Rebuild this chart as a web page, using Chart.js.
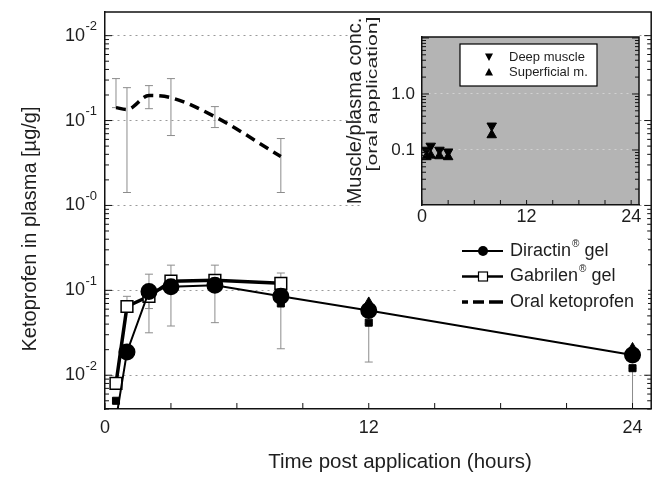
<!DOCTYPE html>
<html>
<head>
<meta charset="utf-8">
<script src="https://cdn.jsdelivr.net/npm/chart.js"></script>
<style>
  body { margin: 0; background: #fff; }
  #wrap { position: relative; width: 661px; height: 478px; }
  #mainChart { position: absolute; left: 0; top: 0; }
  #insetChart { position: absolute; left: 340px; top: 0; }
</style>
</head>
<body>
<div id="wrap">
  <canvas id="mainChart" width="661" height="478"></canvas>
  <canvas id="insetChart" width="320" height="235"></canvas>
</div>
<script>
// plasma concentrations, hours after application
const hours = [0.5, 1, 2, 3, 5, 8, 12, 24];
const diractin = [0.003, 0.0188, 0.097, 0.11, 0.115, 0.085, 0.058, 0.0173];
const gabrilenHours = [0.5, 1, 2, 3, 5, 8];
const gabrilen = [0.008, 0.0645, 0.085, 0.128, 0.131, 0.121];
const squareHours = [0.5, 8, 12, 24];
const squareVals = [0.005, 0.07, 0.0416, 0.0121];
const triHours = [8, 12, 24];
const triVals = [0.1, 0.074, 0.0215];
const gelErrHours = [1, 2, 2, 3, 5, 8, 12, 24];
const gelErrLow = [0.0645, 0.061, 0.0316, 0.038, 0.0416, 0.0205, 0.0143, 0.003];
const gelErrHigh = [0.085, 0.155, 0.097, 0.198, 0.198, 0.16, 0.0404, 0.0121];

// oral curve lives in the upper panel of the broken axis (values = position on the shared log axis)
const oralHours = [0.5, 1, 2, 3, 5, 8];
const oral = [14.2, 13.5, 19.7, 18.6, 11.1, 3.77];
const oralLow = [14.2, 1.42, 13.8, 6.66, 8.27, 1.42];
const oralHigh = [31.2, 24.4, 25.8, 31.2, 14.6, 6.14];

const yDecades = [0.01, 0.1, 1, 10, 100];
const yExponents = ['-2', '-1', '-0', '-1', '-2'];
const xTicks = [0, 12, 24];

// inset: muscle/plasma ratio
const insetHours = [0.5, 1, 2, 3, 8];
const deepMuscle = [0.1, 0.118, 0.1, 0.093, 0.27];
const superficial = [0.075, 0.08, 0.078, 0.075, 0.185];
const insetYTicks = [0.1, 1];
const insetYLabels = ['0.1', '1.0'];

const FONT = "'Liberation Sans', Arial, sans-serif";
const INK = '#1e1e1e';

const pts = (xs, ys) => xs.map((t, i) => ({ x: t, y: ys[i] }));

function drawMinorTicks(ctx, scaleY, xs, dirs, lo, hi) {
  for (let d = 0.001; d <= 1000; d *= 10) {
    for (let m = 1; m <= 9; m++) {
      const v = d * m;
      if (v < lo || v > hi) continue;
      const py = scaleY.getPixelForValue(v);
      const len = m === 1 ? 7 : 4;
      xs.forEach((x, k) => {
        ctx.beginPath(); ctx.moveTo(x, py); ctx.lineTo(x + dirs[k] * len, py); ctx.stroke();
      });
    }
  }
}

function drawPow(ctx, xRight, y, exp) {
  ctx.textBaseline = 'middle';
  ctx.font = '13px ' + FONT;
  const ew = ctx.measureText(exp).width;
  ctx.textAlign = 'left';
  ctx.fillText(exp, xRight - ew, y - 9);
  ctx.font = '18px ' + FONT;
  ctx.textAlign = 'right';
  ctx.fillText('10', xRight - ew - 0.5, y);
}

function drawReg(ctx, x, y, name) {
  ctx.textAlign = 'left'; ctx.textBaseline = 'middle';
  ctx.font = '18px ' + FONT;
  ctx.fillText(name, x, y);
  let w = ctx.measureText(name).width;
  ctx.font = '10px ' + FONT;
  ctx.fillText('\u00AE', x + w + 1, y - 7);
  w += ctx.measureText('\u00AE').width + 1;
  ctx.font = '18px ' + FONT;
  ctx.fillText(' gel', x + w, y);
}

const errorBars = {
  id: 'errorBars',
  beforeDatasetsDraw(chart) {
    const { ctx, chartArea: a, scales: { x, y } } = chart;
    ctx.save();
    ctx.beginPath(); ctx.rect(a.left, a.top, a.width, a.height); ctx.clip();
    ctx.strokeStyle = '#8c8c8c'; ctx.lineWidth = 1;
    const bar = (t, lo, hi) => {
      const px = x.getPixelForValue(t), p1 = y.getPixelForValue(lo), p2 = y.getPixelForValue(hi);
      ctx.beginPath();
      ctx.moveTo(px, p1); ctx.lineTo(px, p2);
      ctx.moveTo(px - 4, p1); ctx.lineTo(px + 4, p1);
      ctx.moveTo(px - 4, p2); ctx.lineTo(px + 4, p2);
      ctx.stroke();
    };
    gelErrHours.forEach((t, i) => bar(t, gelErrLow[i], gelErrHigh[i]));
    oralHours.forEach((t, i) => bar(t, oralLow[i], oralHigh[i]));
    ctx.restore();
  }
};

const mainFrame = {
  id: 'mainFrame',
  afterDraw(chart) {
    const { ctx, chartArea: a, scales: { x, y } } = chart;
    ctx.save();
    ctx.strokeStyle = '#111'; ctx.lineWidth = 1.5;
    ctx.beginPath();
    ctx.moveTo(a.left, a.top); ctx.lineTo(a.right, a.top); ctx.lineTo(a.right, a.bottom);
    ctx.stroke();
    ctx.lineWidth = 1;
    drawMinorTicks(ctx, y, [a.left, a.right], [1, -1], y.min, y.max);
    for (let t = 0; t <= 24; t += 3) {
      const px = x.getPixelForValue(t);
      ctx.beginPath(); ctx.moveTo(px, a.bottom); ctx.lineTo(px, a.bottom - 6); ctx.stroke();
    }
    ctx.fillStyle = INK;
    yDecades.forEach((v, i) => drawPow(ctx, 97, y.getPixelForValue(v), yExponents[i]));
    ctx.font = '18px ' + FONT; ctx.textAlign = 'center'; ctx.textBaseline = 'middle';
    xTicks.forEach(t => ctx.fillText(String(t), x.getPixelForValue(t), 428));
    ctx.font = '20.5px ' + FONT;
    ctx.fillText('Time post application (hours)', 400, 462);
    ctx.save();
    ctx.translate(30, 229); ctx.rotate(-Math.PI / 2);
    ctx.font = '20px ' + FONT;
    ctx.fillText('Ketoprofen in plasma [\u00B5g/g]', 0, 0);
    ctx.restore();

    // legend
    ctx.fillStyle = '#fff';
    ctx.fillRect(458, 239, 190, 74);
    ctx.strokeStyle = '#000';
    const rows = [251, 276.5, 302];
    ctx.lineWidth = 2;
    ctx.beginPath(); ctx.moveTo(462, rows[0]); ctx.lineTo(503, rows[0]); ctx.stroke();
    ctx.fillStyle = '#000';
    ctx.beginPath(); ctx.arc(483, rows[0], 5, 0, Math.PI * 2); ctx.fill();
    ctx.lineWidth = 2.5;
    ctx.beginPath(); ctx.moveTo(462, rows[1]); ctx.lineTo(503, rows[1]); ctx.stroke();
    ctx.fillStyle = '#fff'; ctx.lineWidth = 1.2;
    ctx.fillRect(478.5, rows[1] - 4.5, 9, 9); ctx.strokeRect(478.5, rows[1] - 4.5, 9, 9);
    ctx.lineWidth = 3.5;
    [[462, 468], [473, 484], [489, 503]].forEach(([s, e]) => {
      ctx.beginPath(); ctx.moveTo(s, rows[2]); ctx.lineTo(e, rows[2]); ctx.stroke();
    });
    ctx.fillStyle = INK;
    drawReg(ctx, 510, rows[0], 'Diractin');
    drawReg(ctx, 510, rows[1], 'Gabrilen');
    ctx.font = '18px ' + FONT; ctx.textAlign = 'left';
    ctx.fillText('Oral ketoprofen', 510, rows[2]);
    ctx.restore();
  }
};

new Chart(document.getElementById('mainChart'), {
  type: 'line',
  data: {
    datasets: [
      { data: pts(hours, diractin), borderColor: '#000', borderWidth: 2, pointStyle: 'circle',
        pointRadius: 7.5, pointBackgroundColor: '#000', pointBorderColor: '#000', tension: 0 },
      { data: pts(gabrilenHours, gabrilen), borderColor: '#000', borderWidth: 3.5, pointStyle: 'rect',
        pointRadius: 8.3, pointBackgroundColor: '#fff', pointBorderColor: '#000', pointBorderWidth: 1.5, tension: 0 },
      { data: pts(triHours, triVals), showLine: false, pointStyle: 'triangle', pointRadius: 4.5,
        pointBackgroundColor: '#000', pointBorderColor: '#000' },
      { data: pts(squareHours, squareVals), showLine: false, pointStyle: 'rect', pointRadius: 5,
        pointBackgroundColor: '#000', pointBorderColor: '#000' },
      { data: pts(oralHours, oral), borderColor: '#000', borderWidth: 3.5, borderDash: [10, 6],
        pointRadius: 0, cubicInterpolationMode: 'monotone' }
    ]
  },
  options: {
    responsive: false,
    animation: false,
    layout: { padding: { top: 12, right: 1, left: 0, bottom: 0 } },
    plugins: { legend: { display: false }, tooltip: { enabled: false } },
    scales: {
      x: {
        type: 'linear', min: 0, max: 24.85,
        afterFit: s => { s.height = 69; },
        ticks: { display: false },
        grid: { display: false },
        border: { color: '#111', width: 1.5 }
      },
      y: {
        type: 'logarithmic', min: 0.004, max: 190,
        afterFit: s => { s.width = 105; },
        afterBuildTicks: s => { s.ticks = yDecades.map(v => ({ value: v })); },
        ticks: { display: false },
        grid: { color: '#9a9a9a', lineWidth: 1, drawTicks: false },
        border: { color: '#111', width: 1.5, dash: [2, 4] }
      }
    }
  },
  plugins: [errorBars, mainFrame]
});

const insetFrame = {
  id: 'insetFrame',
  beforeDraw(chart) {
    const { ctx, chartArea: a } = chart;
    ctx.save();
    ctx.fillStyle = '#fff';
    ctx.fillRect(22, 14, a.right - 22, chart.height - 14);
    ctx.fillStyle = '#b4b4b4';
    ctx.fillRect(a.left, a.top, a.width, a.height);
    ctx.restore();
  },
  afterDraw(chart) {
    const { ctx, chartArea: a, scales: { x, y } } = chart;
    ctx.save();
    ctx.strokeStyle = '#111'; ctx.lineWidth = 1.5;
    ctx.beginPath();
    ctx.moveTo(a.left, a.top); ctx.lineTo(a.right, a.top); ctx.lineTo(a.right, a.bottom);
    ctx.stroke();
    ctx.lineWidth = 1;
    drawMinorTicks(ctx, y, [a.left, a.right], [1, -1], y.min, y.max);
    for (let t = 0; t <= 24; t += 3) {
      const px = x.getPixelForValue(t);
      ctx.beginPath(); ctx.moveTo(px, a.bottom); ctx.lineTo(px, a.bottom - 5); ctx.stroke();
    }
    ctx.fillStyle = INK;
    ctx.font = '17px ' + FONT; ctx.textAlign = 'right'; ctx.textBaseline = 'middle';
    insetYTicks.forEach((v, i) => ctx.fillText(insetYLabels[i], a.left - 7, y.getPixelForValue(v)));
    ctx.font = '18px ' + FONT; ctx.textAlign = 'center';
    xTicks.forEach(t => ctx.fillText(String(t), x.getPixelForValue(t), 217));
    ctx.save();
    ctx.translate(15, 111); ctx.rotate(-Math.PI / 2);
    ctx.font = '20px ' + FONT;
    ctx.fillText('Muscle/plasma conc.', 0, 0);
    ctx.restore();
    ctx.save();
    ctx.translate(33, 94); ctx.rotate(-Math.PI / 2);
    ctx.font = '14px ' + FONT;
    const lab = '[oral application]';
    ctx.scale(155 / ctx.measureText(lab).width, 1);
    ctx.fillText(lab, 0, 0);
    ctx.restore();

    // legend box
    ctx.fillStyle = '#fff'; ctx.strokeStyle = '#000'; ctx.lineWidth = 1.2;
    ctx.fillRect(120, 44, 137, 42); ctx.strokeRect(120, 44, 137, 42);
    ctx.fillStyle = '#000';
    const tri = (cx, cy, down) => {
      const s = down ? -1 : 1;
      ctx.beginPath();
      ctx.moveTo(cx - 4, cy + 3.5 * s); ctx.lineTo(cx + 4, cy + 3.5 * s); ctx.lineTo(cx, cy - 4 * s);
      ctx.closePath(); ctx.fill();
    };
    tri(149, 57, true); tri(149, 72, false);
    ctx.fillStyle = INK; ctx.font = '13px ' + FONT; ctx.textAlign = 'left';
    ctx.fillText('Deep muscle', 169, 57);
    ctx.fillText('Superficial m.', 169, 72);
    ctx.restore();
  }
};

new Chart(document.getElementById('insetChart'), {
  type: 'scatter',
  data: {
    datasets: [
      { data: pts(insetHours, deepMuscle), pointStyle: 'triangle', rotation: 180, pointRadius: 5.5,
        backgroundColor: '#000', borderColor: '#000' },
      { data: pts(insetHours, superficial), pointStyle: 'triangle', pointRadius: 5.5,
        backgroundColor: '#000', borderColor: '#000' }
    ]
  },
  options: {
    responsive: false,
    animation: false,
    layout: { padding: { top: 37, right: 21, left: 0, bottom: 0 } },
    plugins: { legend: { display: false }, tooltip: { enabled: false } },
    scales: {
      x: {
        type: 'linear', min: 0, max: 24.9,
        afterFit: s => { s.height = 30; },
        ticks: { display: false },
        grid: { display: false },
        border: { color: '#111', width: 1.5 }
      },
      y: {
        type: 'logarithmic', min: 0.0104, max: 10.4,
        afterFit: s => { s.width = 82; },
        afterBuildTicks: s => { s.ticks = insetYTicks.map(v => ({ value: v })); },
        ticks: { display: false },
        grid: { color: '#d2d2d2', lineWidth: 1, drawTicks: false },
        border: { color: '#111', width: 1.5, dash: [2, 4] }
      }
    }
  },
  plugins: [insetFrame]
});
</script>
</body>
</html>
